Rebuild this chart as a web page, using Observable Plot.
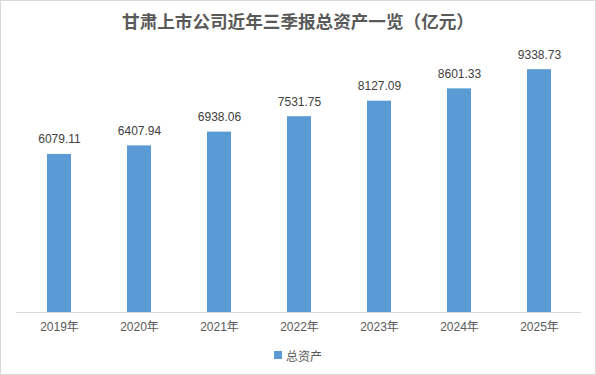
<!DOCTYPE html>
<html>
<head>
<meta charset="utf-8">
<script src="https://cdn.jsdelivr.net/npm/d3@7"></script>
<script src="https://cdn.jsdelivr.net/npm/@observablehq/plot@0.6"></script>
<style>
  html, body { margin: 0; padding: 0; background: #fff; }
  #chart {
    width: 596px; height: 375px; box-sizing: border-box;
    border: 1px solid #d9d9d9; background: #fff; overflow: hidden;
  }
  #title {
    height: 40px; line-height: 40px; text-align: center;
    font-family: "Noto Sans CJK SC", sans-serif; font-weight: bold;
    font-size: 17.6px; color: #595959;
  }
  #legend {
    height: 28px; display: flex; justify-content: center; align-items: center;
    font-family: "Liberation Sans", "Noto Sans CJK SC", sans-serif;
    font-size: 12px; color: #595959;
  }
  #legend .sw { width: 8px; height: 8px; background: #5B9BD5; margin-right: 4px; }
  svg { display: block; }
</style>
</head>
<body>
<div id="chart">
  <div id="title">甘肃上市公司近年三季报总资产一览（亿元）</div>
  <div id="plot"></div>
  <div id="legend"><span class="sw"></span><span>总资产</span></div>
</div>
<script>
const years = ["2019年", "2020年", "2021年", "2022年", "2023年", "2024年", "2025年"];
const totalAssets = [6079.11, 6407.94, 6938.06, 7531.75, 8127.09, 8601.33, 9338.73];
const seriesName = "总资产";

const data = years.map((y, i) => ({year: y, value: totalAssets[i]}));

const chart = Plot.plot({
  width: 594,
  height: 300,
  marginTop: 11,
  marginBottom: 29,
  marginLeft: 15,
  marginRight: 14,
  style: {fontFamily: "'Liberation Sans', 'Noto Sans CJK SC', sans-serif", fontSize: "12px", color: "#595959", background: "#fff"},
  x: {domain: years, paddingInner: 0.7, paddingOuter: 0.35, label: null, tickSize: 0, tickPadding: 10},
  y: {domain: [0, 10000], axis: null},
  marks: [
    Plot.barY(data, {x: "year", y: "value", fill: "#5B9BD5"}),
    Plot.ruleY([0], {stroke: "#d9d9d9", strokeWidth: 1}),
    Plot.text(data, {x: "year", y: "value", text: d => d.value.toFixed(2), dy: -15, fill: "#404040", fontSize: 12})
  ]
});
document.getElementById("plot").appendChild(chart);
</script>
</body>
</html>
